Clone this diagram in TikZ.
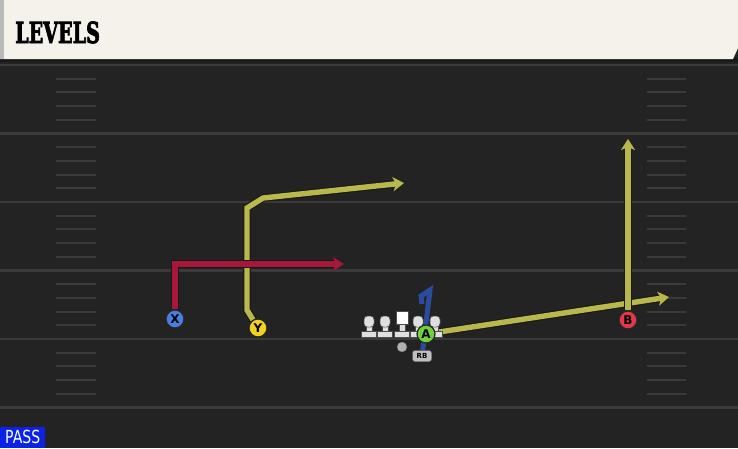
\documentclass[tikz,border=0pt]{standalone}
\usepackage{graphicx}
\usepackage{fontspec}
\newfontfamily\titlefont[BoldFeatures={FakeBold=3}]{DejaVu Serif}
\newfontfamily\tagfont{DejaVu Sans}
\usetikzlibrary{arrows.meta,calc,positioning}

\pgfdeclarelayer{turf}
\pgfsetlayers{turf,main}

\definecolor{turfgray}{HTML}{232323}
\definecolor{linegray}{HTML}{3A3A3A}
\definecolor{hashgray}{HTML}{3A3A3A}
\definecolor{cream}{HTML}{F5F2EB}
\definecolor{routeyellow}{HTML}{B8B84C}
\definecolor{routered}{HTML}{A8163A}
\definecolor{routeblue}{HTML}{2B4C9E}
\definecolor{xblue}{HTML}{4A7FE0}
\definecolor{yyellow}{HTML}{F2D21E}
\definecolor{agreen}{HTML}{6FD23A}
\definecolor{bred}{HTML}{E2364A}
\definecolor{passblue}{HTML}{0A23E6}

\begin{document}
\begin{tikzpicture}[x=1pt,y=-1pt]

  \tikzstyle{player}=[circle, draw=black!85, line width=1.2pt, minimum size=18pt, inner sep=0pt, text=black, font=\tagfont\bfseries\fontsize{12}{12}\selectfont]
  \tikzstyle{route}=[line width=5.4pt, preaction={draw=black!90, line width=7.6pt}]
  \tikzstyle{routetip}=[-{Stealth[length=11pt,width=14pt,inset=3pt]}]
  \tikzstyle{yardline}=[linegray, line width=2.2pt]
  \tikzstyle{hash}=[hashgray, line width=2pt]
  \tikzstyle{blocker}=[fill=gray!25, draw=black!70, line width=0.5pt]

  \useasboundingbox (0,0) rectangle (738,448);

  \begin{pgfonlayer}{turf}
    \fill[turfgray] (0,0) rectangle (738,448);
    \foreach \y in {65,133.5,202,270.5,339,407.5}
      \draw[yardline] (0,\y) -- (738,\y);
    \foreach \y in {65,133.5,202,270.5,339}
      \foreach \k in {1,...,4} {
        \draw[hash] (56,\y+\k*13.7) -- (96,\y+\k*13.7);
        \draw[hash] (647,\y+\k*13.7) -- (686,\y+\k*13.7);
      }
  \end{pgfonlayer}

  % header band
  \fill[black!90] (0,58) rectangle (738,62);
  \fill[cream] (0,0) -- (738,0) -- (738,48) -- (733,59) -- (0,59) -- cycle;
  \fill[gray!55] (0,0) rectangle (4,59);
  \node[anchor=base west, inner sep=0pt] (title) at (15,43)
    {\titlefont\bfseries\fontsize{29}{29}\selectfont\scalebox{0.66}[1]{LEVELS}};

  % line
  \foreach \x in {369,385,418,435} {
    \filldraw[blocker] (\x-3,324) rectangle (\x+3,332);
    \filldraw[blocker, rounded corners=3.5pt] (\x-5,316) rectangle (\x+5,327);
    \filldraw[blocker] (\x-7.5,331) rectangle (\x+7.5,337);
  }
  \filldraw[blocker] (399,321) rectangle (405,332);
  \filldraw[blocker, fill=white] (396,311) rectangle (408,324);
  \filldraw[blocker] (394.5,331) rectangle (409.5,337);

  \node[circle, fill=gray!60, draw=black!60, minimum size=10pt, inner sep=0pt] (qb) at (402,347) {};
  \node[rounded corners=2.5pt, fill=gray!50, draw=black!60, line width=0.4pt, inner sep=1pt, minimum width=19pt, minimum height=11pt, font=\tagfont\bfseries\fontsize{7}{7}\selectfont] (RB) at (422,356) {RB};

  \node[player, fill=xblue] (X) at (175,319) {X};
  \node[player, fill=yyellow] (Y) at (258,328) {Y};
  \node[player, fill=agreen] (A) at (426,334) {A};
  \node[player, fill=bred] (B) at (628,320) {B};

  \node[fill=passblue, text=white, anchor=south west, minimum width=45pt, minimum height=21pt, inner sep=0pt, font=\tagfont\fontsize{18}{18}\selectfont] (pass) at (0,448) {\scalebox{0.78}[1]{PASS}};

  % routes
  \coordinate (y1) at (247,310);
  \coordinate (y2) at (247,208);
  \coordinate (y3) at (263,198);
  \coordinate (y4) at (404,183);
  \coordinate (x1) at (175,264);
  \coordinate (x2) at (344,264);
  \coordinate (a1) at (669,297);
  \coordinate (b1) at (628,139);
  \coordinate (r1) at (430,290);
  \coordinate (r2) at (421,296);
  \coordinate (r3) at (422,304);

  \begin{pgfonlayer}{turf}
    \draw[route, routetip, routeyellow] (Y) -- (y1) -- (y2) -- (y3) -- (y4);
    \draw[route, routetip, routered] (X) -- (x1) -- (x2);
    \draw[route, routetip, routeyellow] (A) -- (a1);
    \draw[route, routetip, routeyellow] (B) -- (b1);
    \draw[routeblue, line width=5pt] (RB) -- (r1) -- (r2) -- (r3);
  \end{pgfonlayer}
\end{tikzpicture}
\end{document}
